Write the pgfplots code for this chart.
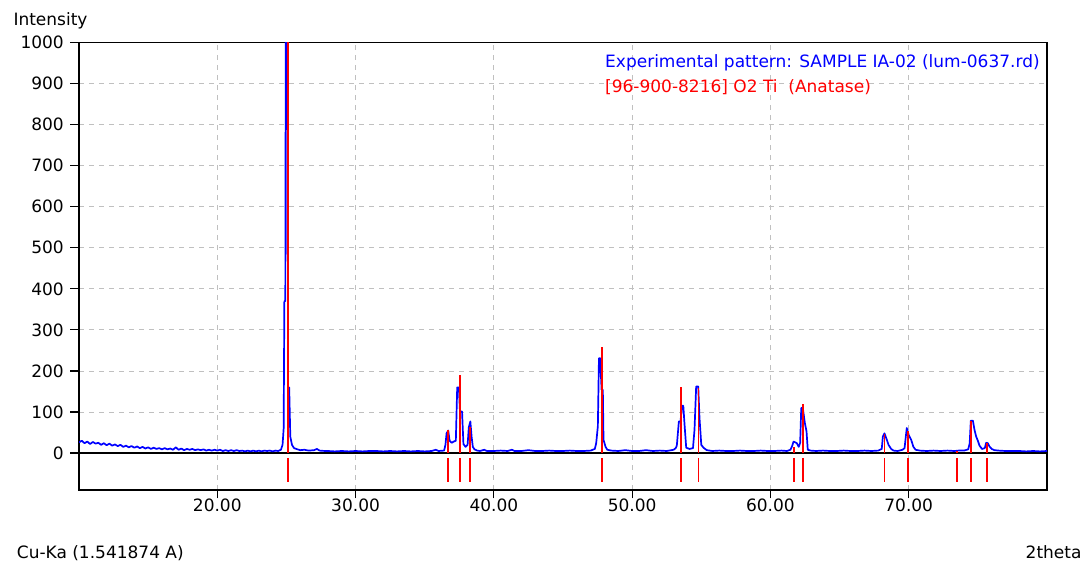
\documentclass[border=0pt]{standalone}
\usepackage{pgfplots}
\pgfplotsset{compat=1.18}
\usepackage{fontspec}
\setmainfont{DejaVu Sans}
\definecolor{gridgray}{RGB}{192,192,192}
\definecolor{expblue}{RGB}{0,0,255}
\definecolor{refred}{RGB}{255,0,0}
\begin{document}
\fontsize{17}{20}\selectfont
\begin{tikzpicture}
\useasboundingbox (0,0) rectangle (1086pt,564pt);
\begin{axis}[
  at={(79pt,74pt)}, anchor=south west,
  scale only axis, width=968pt, height=447.5pt,
  xmin=10, xmax=80, ymin=-90, ymax=1000,
  xtick={20,30,...,70}, ytick={0,100,...,1000},
  grid=major,
  major grid style={gridgray, dash pattern=on 5pt off 5pt, line width=0.8pt},
  tick align=outside, tick pos=left, major tick length=8.5pt,
  tick style={black, line width=1.2pt},
  axis line style={black, line width=1.3pt},
  font=\fontsize{17}{20}\selectfont,
  /pgf/number format/assume math mode=true,
  /pgf/number format/1000 sep={},
  x tick label style={/pgf/number format/.cd, fixed, fixed zerofill, precision=2, /tikz/.cd, inner sep=0pt},
  y tick label style={inner sep=0pt, xshift=-6.5pt},
  unbounded coords=jump,
]
% zero line
\addplot[black, line width=1.2pt] coordinates {(10,0) (80,0)};
% experimental pattern
\addplot[expblue, line width=1.7pt, line join=round] coordinates {
(10.0,26) (10.2,30) (10.4,24) (10.6,28) (10.8,22) (11.0,27) (11.2,23) (11.4,25) (11.6,20) (11.8,24)
(12.0,19) (12.2,23) (12.4,18) (12.6,21) (12.8,17) (13.0,20) (13.2,15) (13.4,18) (13.6,14) (13.8,17)
(14.0,13) (14.2,16) (14.4,12) (14.6,15) (14.8,11) (15.0,14) (15.2,10) (15.4,13) (15.6,10) (15.8,12)
(16.0,9) (16.2,12) (16.4,9) (16.6,11) (16.8,8) (17.0,14) (17.2,8) (17.4,11) (17.6,7) (17.8,10)
(18.0,8) (18.2,10) (18.4,7) (18.6,9) (18.8,7) (19.0,9) (19.2,6) (19.4,8) (19.6,6) (19.8,8)
(20.0,6) (20.2,8) (20.4,5) (20.6,7) (20.8,5) (21.0,7) (21.2,5) (21.4,7) (21.6,5) (21.8,6)
(22.0,4) (22.2,6) (22.4,4) (22.6,6) (22.8,4) (23.0,6) (23.2,4) (23.4,6) (23.6,5) (23.8,6)
(24.0,4) (24.2,6) (24.4,5) (24.6,8) (24.72,20) (24.8,60) (24.85,370) (24.92,370) (24.97,1400) (25.05,1400)
(25.12,160) (25.2,160) (25.28,40) (25.4,20) (25.55,12) (25.8,9) (26.0,7) (26.3,8) (26.6,6) (27.0,7)
(27.2,10) (27.4,6) (27.8,5) (28.0,5) (28.5,4) (29.0,5) (29.5,4) (30.0,5) (30.5,4) (31.0,5)
(31.5,5) (32.0,4) (32.5,5) (33.0,4) (33.5,5) (34.0,4) (34.5,5) (35.0,4) (35.5,5) (35.8,8)
(36.0,5) (36.4,6) (36.5,20) (36.58,48) (36.7,55) (36.8,30) (36.95,25) (37.1,28) (37.25,30) (37.35,160)
(37.47,160) (37.55,101) (37.7,101) (37.8,22) (37.95,15) (38.1,20) (38.19,63) (38.3,77) (38.39,40) (38.48,15)
(38.6,9) (38.8,6) (39.0,5) (39.3,8) (39.5,5) (40.0,5) (40.5,6) (41.0,5) (41.3,8) (41.5,5)
(42.0,5) (42.5,7) (43.0,5) (43.5,5) (44.0,6) (44.5,5) (45.0,5) (45.5,6) (46.0,5) (46.5,5)
(47.0,6) (47.3,10) (47.4,24) (47.52,65) (47.6,231) (47.69,231) (47.79,154) (47.88,154) (47.93,32) (48.08,15)
(48.2,8) (48.5,6) (49.0,5) (49.5,7) (50.0,5) (50.5,5) (51.0,7) (51.5,5) (52.0,6) (52.5,5)
(53.0,8) (53.15,12) (53.23,18) (53.38,77) (53.5,77) (53.6,115) (53.7,115) (53.79,69) (53.91,13) (54.15,10)
(54.4,12) (54.51,57) (54.63,162) (54.78,162) (54.87,86) (55.0,20) (55.16,13) (55.4,7) (55.8,5) (56.3,6)
(56.8,5) (57.3,5) (57.8,6) (58.3,5) (58.8,5) (59.3,6) (59.8,5) (60.3,5) (60.8,6) (61.2,5)
(61.45,8) (61.58,18) (61.67,28) (61.8,26) (61.91,24) (62.05,15) (62.15,25) (62.23,110) (62.34,110) (62.49,73)
(62.61,53) (62.7,8) (62.9,6) (63.3,5) (63.8,6) (64.3,5) (64.8,5) (65.3,6) (65.8,5) (66.3,5)
(66.8,6) (67.3,5) (67.8,6) (68.05,10) (68.13,40) (68.25,48) (68.42,32) (68.54,20) (68.73,10) (68.9,6)
(69.2,5) (69.55,8) (69.7,12) (69.78,37) (69.86,61) (70.0,44) (70.18,32) (70.34,15) (70.5,8) (70.8,6)
(71.3,5) (71.8,6) (72.3,5) (72.8,6) (73.3,5) (73.6,6) (74.0,6) (74.3,9) (74.41,24) (74.49,79)
(74.64,79) (74.76,56) (74.88,40) (75.0,30) (75.12,18) (75.3,10) (75.5,12) (75.6,25) (75.72,24) (75.84,16)
(76.0,10) (76.2,7) (76.5,6) (77.0,5) (77.5,5) (78.0,5) (78.5,4) (79.0,5) (79.5,4) (80.0,5)
};
% reference sticks (anatase)
\addplot[refred, line width=1.6pt] coordinates {
(25.10,0) (25.10,1400) (25.10,nan)
(36.67,0) (36.67,57) (36.67,nan)
(37.54,0) (37.54,191) (37.54,nan)
(38.29,0) (38.29,63) (38.29,nan)
(47.80,0) (47.80,258) (47.80,nan)
(53.55,0) (53.55,162) (53.55,nan)
(54.80,0) (54.80,158) (54.80,nan)
(61.69,0) (61.69,14) (61.69,nan)
(62.34,0) (62.34,120) (62.34,nan)
(68.25,0) (68.25,46) (68.25,nan)
(69.93,0) (69.93,53) (69.93,nan)
(73.48,0) (73.48,4) (73.48,nan)
(74.52,0) (74.52,79) (74.52,nan)
(75.65,0) (75.65,24)
};
% reference position markers below zero
\addplot[refred, line width=1.6pt] coordinates {
(25.10,-12) (25.10,-70) (25.10,nan)
(36.67,-12) (36.67,-70) (36.67,nan)
(37.54,-12) (37.54,-70) (37.54,nan)
(38.29,-12) (38.29,-70) (38.29,nan)
(47.80,-12) (47.80,-70) (47.80,nan)
(53.55,-12) (53.55,-70) (53.55,nan)
(54.80,-12) (54.80,-70) (54.80,nan)
(61.69,-12) (61.69,-70) (61.69,nan)
(62.34,-12) (62.34,-70) (62.34,nan)
(68.25,-12) (68.25,-70) (68.25,nan)
(69.93,-12) (69.93,-70) (69.93,nan)
(73.48,-12) (73.48,-70) (73.48,nan)
(74.52,-12) (74.52,-70) (74.52,nan)
(75.65,-12) (75.65,-70)
};
\end{axis}
\node[anchor=base west, inner sep=0pt] at (13.3pt,538pt) {Intensity};
\node[anchor=base west, inner sep=0pt] at (16.7pt,5.7pt) {Cu-Ka (1.541874 A)};
\node[anchor=base east, inner sep=0pt] at (1081.7pt,5.7pt) {2theta};
\node[anchor=base west, inner sep=0pt, text=expblue] at (605pt,496.7pt) {Experimental pattern: SAMPLE IA-02 (lum-0637.rd)};
\node[anchor=base west, inner sep=0pt, text=refred] at (605pt,471.7pt) {[96-900-8216] O2 Ti\ \ (Anatase)};
\end{tikzpicture}
\end{document}
